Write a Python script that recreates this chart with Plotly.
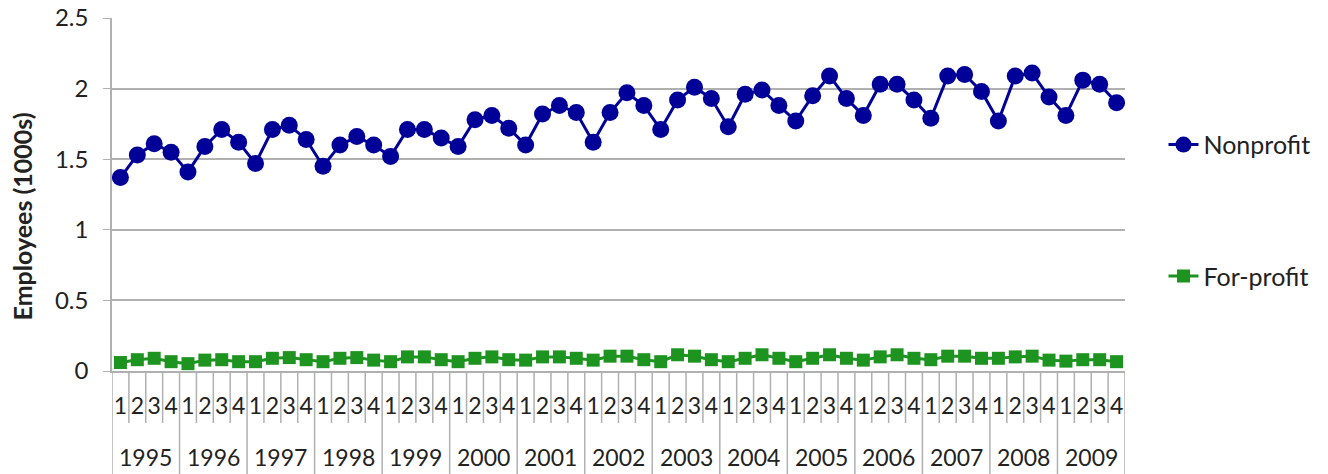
import plotly.graph_objects as go

years = ["1995", "1996", "1997", "1998", "1999", "2000", "2001", "2002",
         "2003", "2004", "2005", "2006", "2007", "2008", "2009"]
quarters = ["1", "2", "3", "4"]

nonprofit = [1.37, 1.53, 1.61, 1.55,
             1.41, 1.59, 1.71, 1.62,
             1.47, 1.71, 1.74, 1.64,
             1.45, 1.60, 1.66, 1.60,
             1.52, 1.71, 1.71, 1.65,
             1.59, 1.78, 1.81, 1.72,
             1.60, 1.82, 1.88, 1.83,
             1.62, 1.83, 1.97, 1.88,
             1.71, 1.92, 2.01, 1.93,
             1.73, 1.96, 1.99, 1.88,
             1.77, 1.95, 2.09, 1.93,
             1.81, 2.03, 2.03, 1.92,
             1.79, 2.09, 2.10, 1.98,
             1.77, 2.09, 2.11, 1.94,
             1.81, 2.06, 2.03, 1.90]

forprofit = [0.060, 0.080, 0.090, 0.066,
             0.052, 0.077, 0.080, 0.066,
             0.066, 0.090, 0.095, 0.080,
             0.066, 0.090, 0.095, 0.077,
             0.066, 0.100, 0.100, 0.080,
             0.066, 0.090, 0.100, 0.080,
             0.077, 0.100, 0.100, 0.090,
             0.077, 0.105, 0.105, 0.080,
             0.066, 0.115, 0.105, 0.080,
             0.066, 0.090, 0.115, 0.090,
             0.066, 0.090, 0.115, 0.090,
             0.077, 0.100, 0.115, 0.090,
             0.080, 0.105, 0.105, 0.090,
             0.090, 0.100, 0.105, 0.077,
             0.070, 0.080, 0.080, 0.066]

nq = len(quarters)
n = len(years) * nq
xs = list(range(n))
x_qtr = [q for y in years for q in quarters]

font = "Lato, 'Open Sans', sans-serif"
grey = "#b0b0b0"
txt = "#222222"

W, H = 1328, 474
ml, mr, mt, mb = 112, 198, 18, 103
plot_w = W - ml - mr
plot_h = H - mt - mb

fig = go.Figure()
fig.add_trace(go.Scatter(
    x=xs, y=nonprofit, name="Nonprofit", mode="lines+markers",
    line=dict(color="#000099", width=3),
    marker=dict(symbol="circle", size=17, color="#000099"),
    legendgroup="a",
))
fig.add_trace(go.Scatter(
    x=xs, y=forprofit, name="For-profit", mode="lines+markers",
    line=dict(color="#1e9420", width=3),
    marker=dict(symbol="square", size=13, color="#1e9420"),
    legendgroup="b",
))

# category boundaries below the axis: short for quarters, long for years
short = -52 / plot_h
long = -103 / plot_h
for i in range(n + 1):
    fig.add_shape(type="line", xref="x", yref="paper",
                  x0=i - 0.5, x1=i - 0.5, y0=0, y1=long if i % nq == 0 else short,
                  line=dict(color=grey, width=1.5))

# year labels
for k, yr in enumerate(years):
    fig.add_annotation(x=k * nq + (nq - 1) / 2, y=-86 / plot_h, xref="x", yref="paper",
                       text=yr, showarrow=False, yanchor="middle",
                       font=dict(size=23, color=txt))

# y axis title
fig.add_annotation(x=-90 / plot_w, y=(plot_h - 198) / plot_h, xref="paper", yref="paper",
                   text="<b>Employees (1000s)</b>", textangle=-90, showarrow=False,
                   xanchor="center", yanchor="middle", font=dict(size=25, color=txt))

fig.update_layout(
    width=W, height=H,
    margin=dict(l=ml, r=mr, t=mt, b=mb),
    paper_bgcolor="white", plot_bgcolor="white",
    font=dict(family=font, size=23, color=txt),
    showlegend=True,
    legend=dict(x=1.038, xanchor="left", y=0.706, yanchor="top",
                tracegroupgap=96, font=dict(size=25)),
    xaxis=dict(
        range=[-0.5, n - 0.5], tickmode="array", tickvals=xs, ticktext=x_qtr,
        showline=True, linecolor=grey, linewidth=1.5,
        ticks="outside", ticklen=14, tickcolor="rgba(0,0,0,0)",
        showgrid=False, zeroline=False, tickfont=dict(size=23),
        automargin=False,
    ),
    yaxis=dict(
        range=[0, 2.5], dtick=0.5,
        showline=True, linecolor=grey, linewidth=1.5,
        ticks="outside", ticklen=7, tickcolor=grey, ticklabelstandoff=10,
        showgrid=True, gridcolor=grey, gridwidth=1.5,
        zeroline=False, tickfont=dict(size=24),
        automargin=False,
    ),
)

# drop the default page margin so the figure fills the window exactly
fig.write_html("out.html", config={"displayModeBar": False},
               post_script="document.body.style.margin = '0';")
